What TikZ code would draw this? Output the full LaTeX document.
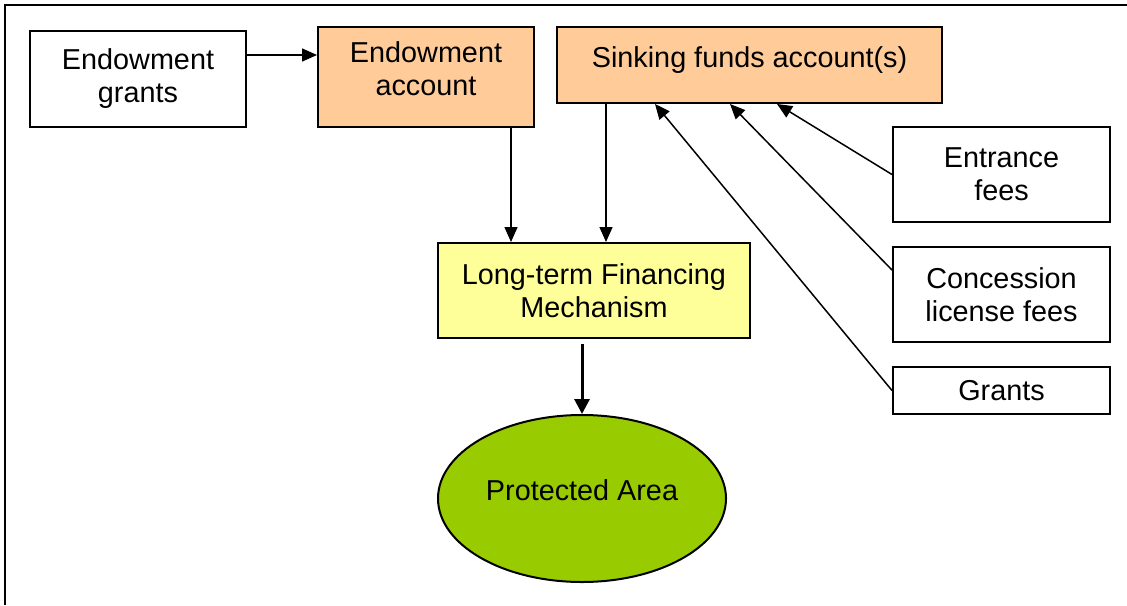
\documentclass[tikz,border=0pt]{standalone}
\usepackage{fontspec}
\setmainfont{Liberation Sans}
\usetikzlibrary{arrows.meta}
\usetikzlibrary{positioning,shapes.geometric}
\usepackage{xcolor}

\definecolor{peach}{HTML}{FFCC99}
\definecolor{paleyellow}{HTML}{FFFF99}
\definecolor{leafgreen}{HTML}{99CC00}

\begin{document}
\begin{tikzpicture}[%
        x=0.5pt, y=-0.5pt,
        every node/.style={rectangle, inner sep=0pt, align=center, font=\fontsize{14.4}{16.5}\selectfont},
        box/.style={draw, line width=1pt},
        srcbox/.style={box, minimum width=108.5pt, minimum height=47.5pt},
        flow/.style={-{Triangle[length=7.5pt,width=6.5pt]}},
        line width=0.75pt
      ]
      \useasboundingbox (0,0) rectangle (1127,605);
      \draw [line width=1pt] (5,605) -- (5,5) -- (1127,5);
      \node [box] (egr) [minimum width=108pt, minimum height=48pt] at (138,79) {Endowment\\grants};
      \node [box] (eacct) [fill=peach, text depth=8pt, minimum width=108pt, minimum height=50pt] at (426,77) {Endowment\\account};
      \node [box] (sink) [fill=peach, anchor=base, text height=20pt, text depth=18pt, minimum width=192.5pt] at (749.5,67) {Sinking funds account(s)};
      \node [box] (ltfm) [fill=paleyellow, minimum width=156pt, minimum height=47.5pt] at (594,290.5) {Long-term Financing\\Mechanism};
      \node [box] (pa) [shape=ellipse, fill=leafgreen, text height=10.5pt, text depth=9pt, minimum width=144pt, minimum height=83.5pt] at (582,498.5) {Protected Area};
      \node [srcbox] (ent) at (1001.5,174.5) {Entrance\\fees};
      \node [srcbox] (con) at (1001.5,294.5) {Concession\\license fees};
      \node [srcbox] (gr) [minimum height=23.5pt] at (1001.5,390.5) {Grants};
      \path [draw] ([yshift=12pt]egr.east) edge[flow] ([yshift=12pt]egr.east -| eacct.west)
      ([xshift=42.5pt]eacct.south) edge[flow] ([xshift=42.5pt]eacct.south |- ltfm.north)
      ([xshift=-71.75pt]sink.south) edge[flow] ([xshift=-71.75pt]sink.south |- ltfm.north)
      (gr.west) edge[flow] ([xshift=-47.25pt]sink.south)
      ([yshift=12.25pt]con.west) edge[flow] ([xshift=-9.75pt]sink.south)
      (ent.west) edge[flow] ([xshift=13.75pt]sink.south);
      \draw [-{Triangle[length=7.5pt,width=7.5pt]}, line width=1.5pt] ([yshift=-2.5pt]ltfm.south -| pa.north) -- (pa.north);
    \end{tikzpicture}
\end{document}
